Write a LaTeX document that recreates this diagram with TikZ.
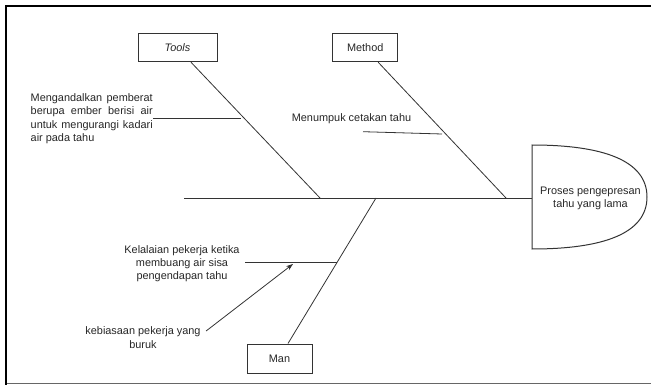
\documentclass[tikz,border=0pt]{standalone}
\usepackage{fontspec}
\setmainfont{Liberation Sans}
\usetikzlibrary{arrows.meta, positioning, calc}

\begin{document}
\begin{tikzpicture}[x=1pt, y={(0pt,-1pt)},
    every node/.style={font=\fontsize{10.9}{13.3}\selectfont, text=black!85},
    catbox/.style={draw=black!80, line width=1pt, inner sep=0pt},
    bone/.style={draw=black!80, line width=0.8pt}]
\useasboundingbox (0,0) rectangle (651,385);

% Frame
\draw[line width=2pt] (5.6,384.5) -- (5.6,5.8) -- (652,5.8);
\draw[black!60, line width=1.3pt] (6.6,383.8) -- (652,383.8);

% Category boxes
\node[catbox, minimum width=79pt, minimum height=28.5pt] (tools) at (177.5,47.5) {\itshape Tools};
\node[catbox, minimum width=64.5pt, minimum height=28.5pt] (method) at (365.2,47.5) {Method};
\node[catbox, minimum width=65pt, minimum height=29pt] (man) at (279.5,358.5) {Man};

% Head
\coordinate (headl) at (532,198);
\draw[bone, line width=1pt] (532,145) .. controls (602,145) and (647,160) .. (647,197)
    .. controls (647,234) and (602,249) .. (532,249) -- cycle;
\node[align=center] (effect) at (590.5,198.5) {Proses pengepresan\\tahu yang lama};

% Spine
\coordinate (tail) at (184,198);
\coordinate (tj) at (320,198);
\coordinate (mj) at (506,198);
\coordinate (nj) at (376,198);
\draw[bone] (tail) -- (headl);

% Main bones
\draw[bone] ([xshift=13.5pt]tools.south) -- (tj);
\draw[bone] ([xshift=13pt]method.south) -- (mj);
\draw[bone] ([xshift=8.5pt]man.north) -- (nj);

% Causes
\node[align=justify, text width=122pt, inner sep=0pt, anchor=north west] (weight) at (30.5,93.5)
    {Mengandalkan pemberat\linebreak berupa ember berisi air\linebreak untuk mengurangi kadari\linebreak air pada tahu};
\coordinate (ts) at (241,118);
\draw[bone] (ts -| weight.east) -- (ts);

\node (stack) at (351.5,119) {Menumpuk cetakan tahu};
\coordinate (ms1) at (363,131.7);
\coordinate (ms2) at (442,134);
\draw[bone] (ms1) -- (ms2);

\node[align=center] (neglect) at (182,263.5) {Kelalaian pekerja ketika\\membuang air sisa\\pengendapan tahu};
\coordinate (ns1) at (245,262);
\coordinate (ns2) at (337,262);
\draw[bone] (ns1) -- (ns2);

\node[align=center] (habit) at (143,337.5) {kebiasaan pekerja yang\\buruk};
\coordinate (tip) at (293,264);
\draw[bone, -{Stealth[length=7pt, width=5pt]}] ([yshift=6.5pt, xshift=2pt]habit.east) -- (tip);
\end{tikzpicture}
\end{document}
